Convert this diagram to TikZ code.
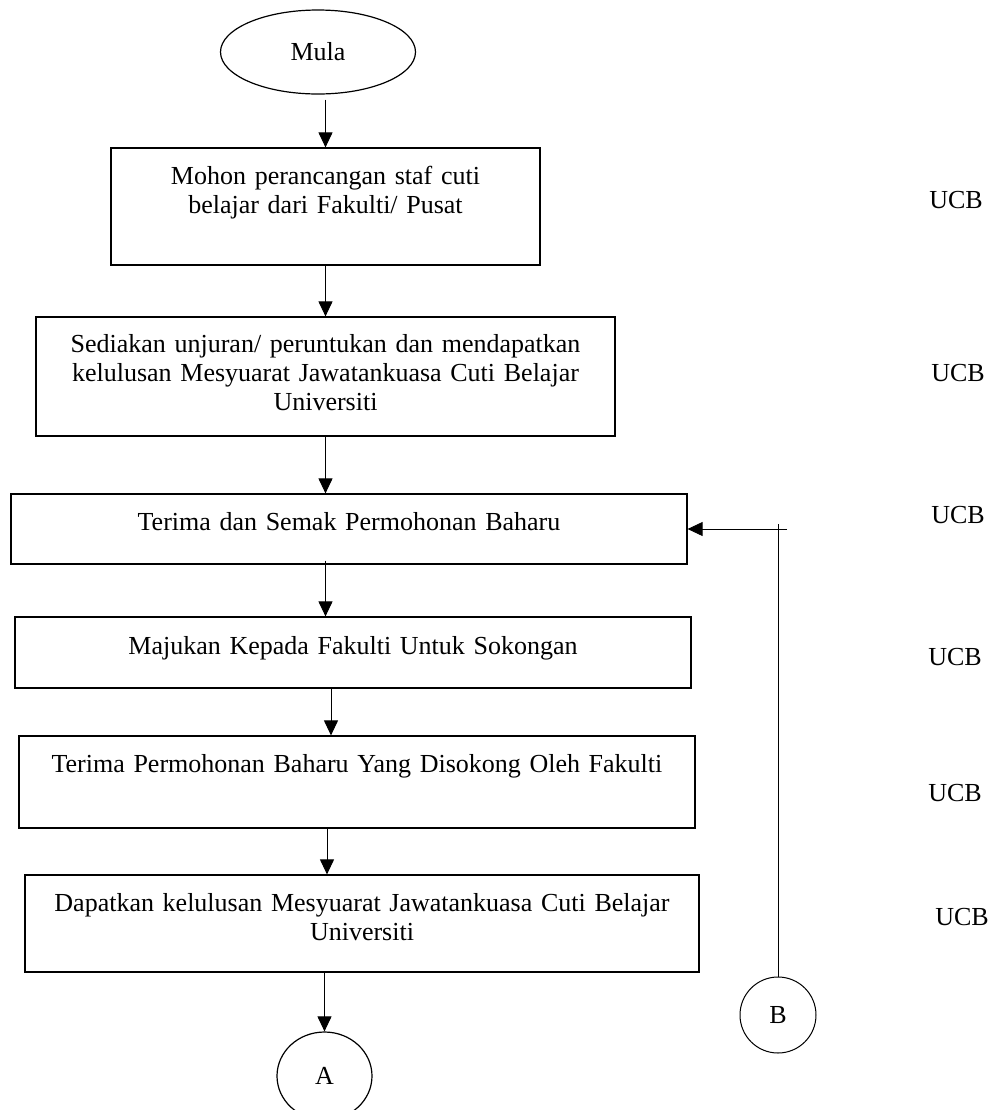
\documentclass[tikz,border=0pt]{standalone}
\usepackage{fontspec}
\setmainfont{Liberation Serif}
\usetikzlibrary{arrows.meta, positioning, shapes, calc}

\begin{document}
\begin{tikzpicture}[
  x=0.5pt, y=-0.5pt,
  font=\fontsize{13}{14.5}\selectfont,
  stepbox/.style={draw,line width=0.6pt,align=center,inner xsep=3pt,inner ysep=0pt},
  terminal/.style={draw,ellipse,line width=0.6pt,inner sep=0pt},
  connector/.style={draw,circle,line width=0.5pt,inner sep=0pt,minimum size=38pt},
  unit/.style={inner sep=0pt},
  flow/.style={-{Triangle[length=7.5pt,width=7pt]},line width=0.5pt},
  feed/.style={line width=0.4pt}]

  \useasboundingbox (0,0) rectangle (992,1110);

  % Langkah-langkah
  \node[terminal, minimum width=97.5pt, minimum height=42pt] (mula) at (318,52) {Mula};
  \node[stepbox, text width=208.5pt, minimum height=58.5pt, text depth=31.4pt] (mohon) at (325.5,206.5)
      {Mohon perancangan staf cuti\\belajar dari Fakulti/ Pusat};
  \node[stepbox, text width=283.5pt, minimum height=59.5pt, text depth=33.4pt] (unjuran) at (325.5,376.5)
      {Sediakan unjuran/ peruntukan dan mendapatkan\\kelulusan Mesyuarat Jawatankuasa Cuti Belajar\\Universiti};
  \node[stepbox, text width=332pt, minimum height=35pt, text depth=7.9pt] (terima) at (349,529)
      {Terima dan Semak Permohonan Baharu};
  \node[stepbox, text width=332pt, minimum height=35.5pt, text depth=7.4pt] (majukan) at (353,652.5)
      {Majukan Kepada Fakulti Untuk Sokongan};
  \node[stepbox, text width=332pt, minimum height=46pt, text depth=18.9pt] (disokong) at (357,782)
      {Terima Permohonan Baharu Yang Disokong Oleh Fakulti};
  \node[stepbox, text width=331pt, minimum height=48.5pt, text depth=21.4pt] (dapatkan) at (362,923.5)
      {Dapatkan kelulusan Mesyuarat Jawatankuasa Cuti Belajar\\Universiti};
  \node[terminal, minimum width=47.5pt, minimum height=44pt] (sambungA) at (324.5,1076) {A};
  \node[connector] (sambungB) at (778,1015) {B};

  % Tanggungjawab
  \node[unit] (ucb1) at (956,200) {UCB};
  \node[unit] (ucb2) at (958,373) {UCB};
  \node[unit] (ucb3) at (958,515) {UCB};
  \node[unit] (ucb4) at (955,657) {UCB};
  \node[unit] (ucb5) at (955,793) {UCB};
  \node[unit] (ucb6) at (962,917) {UCB};

  % Aliran
  \draw[flow] ([yshift=-2.5pt]mula.south -| mohon.north) -- (mohon.north);
  \draw[flow] (mohon) -- (unjuran);
  \draw[flow] (unjuran.south) -- (unjuran.south |- terima.north);
  \draw[flow] ([yshift=2pt]terima.south -| unjuran.south) -- (majukan.north -| unjuran.south);
  \draw[flow] (majukan.south -| 331,0) -- (disokong.north -| 331,0);
  \draw[flow] (disokong.south -| 327,0) -- (dapatkan.north -| 327,0);
  \draw[flow] (dapatkan.south -| sambungA.north) -- (sambungA.north);

  % Gelung balik dari B
  \coordinate (balikAtas) at (778,524);
  \coordinate (balikMasuk) at (787,529);
  \draw[feed] (sambungB) -- (balikAtas);
  \draw[flow, feed] (balikMasuk) -- (terima);

\end{tikzpicture}
\end{document}
